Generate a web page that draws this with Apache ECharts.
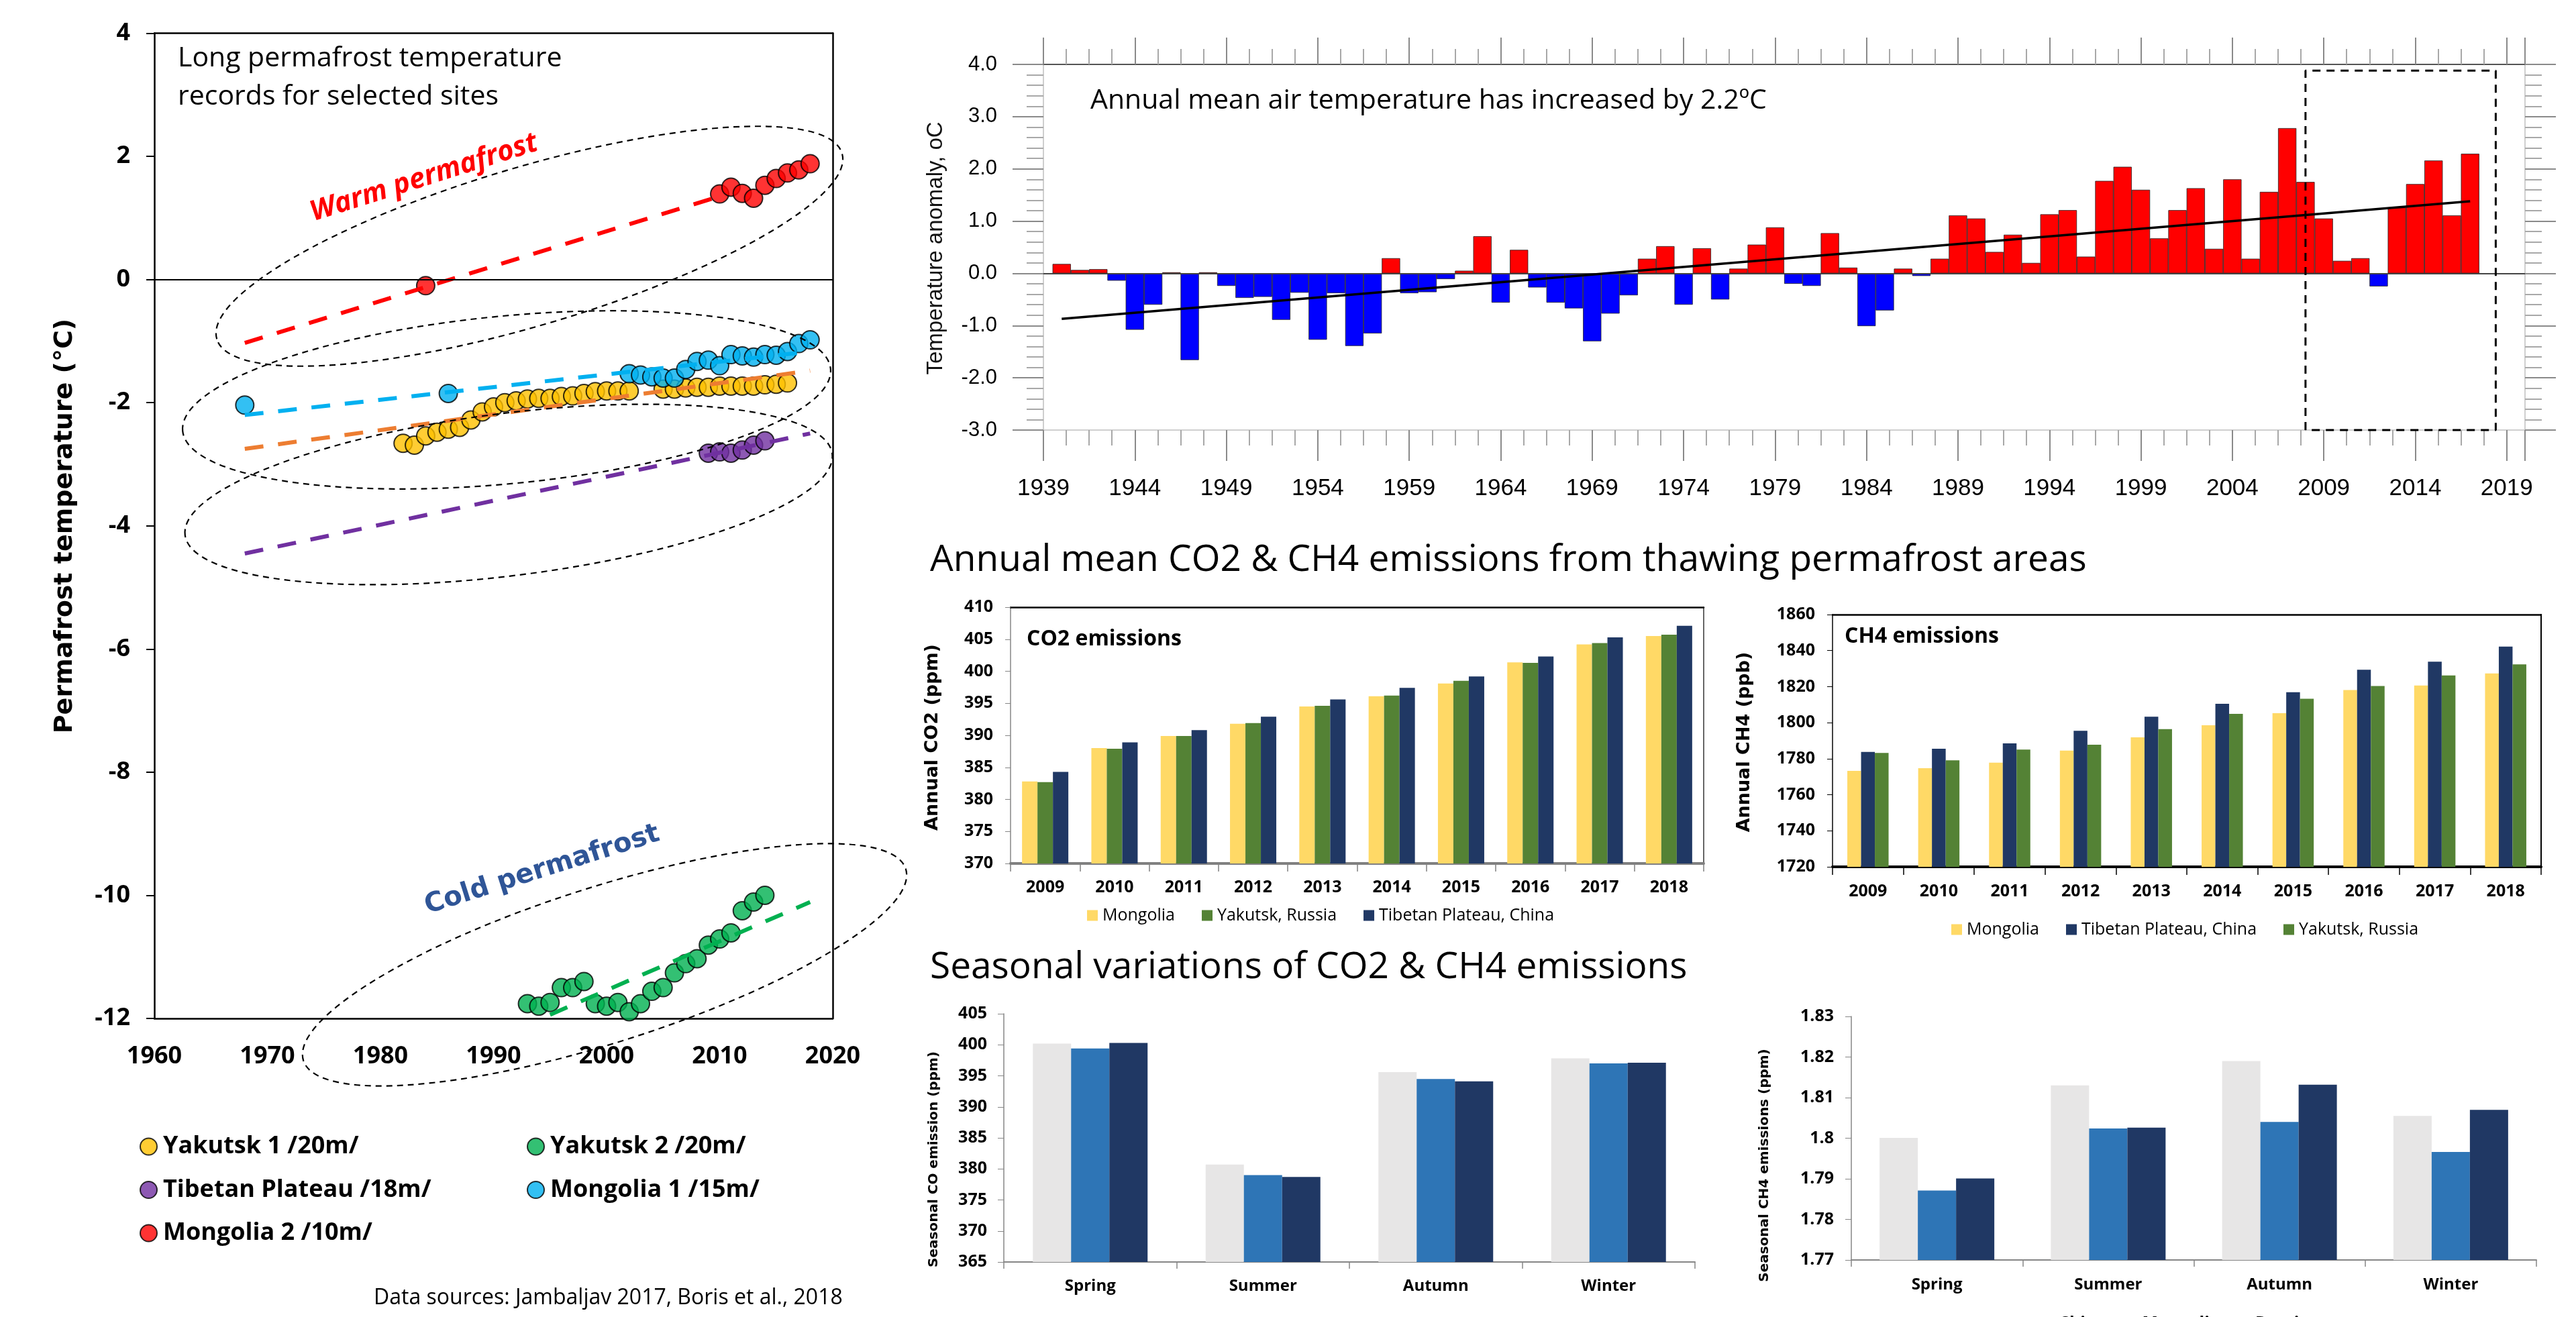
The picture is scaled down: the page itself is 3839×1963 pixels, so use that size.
<!DOCTYPE html>
<html><head><meta charset="utf-8">
<script src="https://cdn.jsdelivr.net/npm/echarts@6/dist/echarts.min.js"></script>
<style>html,body{margin:0;padding:0;background:#fff}#c{width:3839px;height:1963px}</style>
</head><body><div id="c"></div>
<script>
// ---------------- DATA ----------------
// Left panel: permafrost temperature records
const yak1Years = [1982,1983,1984,1985,1986,1987,1988,1989,1990,1991,1992,1993,1994,1995,1996,1997,1998,1999,2000,2001,2002,2005,2006,2007,2008,2009,2010,2011,2012,2013,2014,2015,2016];
const yak1Temps = [-2.66,-2.69,-2.54,-2.48,-2.43,-2.40,-2.28,-2.15,-2.07,-2.00,-1.97,-1.94,-1.93,-1.93,-1.90,-1.89,-1.85,-1.82,-1.81,-1.81,-1.81,-1.78,-1.78,-1.76,-1.75,-1.75,-1.73,-1.73,-1.73,-1.73,-1.71,-1.70,-1.68];
const yak2Years = [1993,1994,1995,1996,1997,1998,1999,2000,2001,2002,2003,2004,2005,2006,2007,2008,2009,2010,2011,2012,2013,2014];
const yak2Temps = [-11.76,-11.80,-11.74,-11.50,-11.50,-11.40,-11.76,-11.80,-11.74,-11.89,-11.76,-11.56,-11.50,-11.26,-11.11,-11.03,-10.81,-10.71,-10.61,-10.25,-10.11,-10.00];
const tibetYears = [2009,2010,2011,2012,2013,2014];
const tibetTemps = [-2.82,-2.80,-2.82,-2.77,-2.69,-2.62];
const mon1Years = [1968,1986,2002,2003,2004,2005,2006,2007,2008,2009,2010,2011,2012,2013,2014,2015,2016,2017,2018];
const mon1Temps = [-2.04,-1.85,-1.53,-1.55,-1.58,-1.60,-1.60,-1.46,-1.33,-1.31,-1.40,-1.22,-1.24,-1.26,-1.22,-1.23,-1.17,-1.04,-0.98];
const mon2Years = [1984,2010,2011,2012,2013,2014,2015,2016,2017,2018];
const mon2Temps = [-0.10,1.39,1.50,1.40,1.32,1.53,1.64,1.73,1.78,1.88];
// trend lines (start / end)
const mon2TrendYears = [1968, 2010];  const mon2TrendTemps = [-1.03, 1.35];
const mon1TrendYears = [1968, 2018];  const mon1TrendTemps = [-2.20, -1.17];
const yak1TrendYears = [1968, 2018];  const yak1TrendTemps = [-2.75, -1.48];
const tibetTrendYears = [1968, 2018]; const tibetTrendTemps = [-4.45, -2.50];
const yak2TrendYears = [1995, 2018];  const yak2TrendTemps = [-11.94, -10.11];
const permXTicks = [1960, 2020, 10];
const permYTicks = [-12, 4, 2];

// Top right: annual air temperature anomaly
const tempYears = [1940,1941,1942,1943,1944,1945,1946,1947,1948,1949,1950,1951,1952,1953,1954,1955,1956,1957,1958,1959,1960,1961,1962,1963,1964,1965,1966,1967,1968,1969,1970,1971,1972,1973,1974,1975,1976,1977,1978,1979,1980,1981,1982,1983,1984,1985,1986,1987,1988,1989,1990,1991,1992,1993,1994,1995,1996,1997,1998,1999,2000,2001,2002,2003,2004,2005,2006,2007,2008,2009,2010,2011,2012,2013,2014,2015,2016,2017];
const tempAnomaly = [0.18,0.065,0.08,-0.14,-1.08,-0.60,0.02,-1.66,0.02,-0.24,-0.47,-0.45,-0.89,-0.37,-1.27,-0.38,-1.39,-1.15,0.29,-0.38,-0.36,-0.11,0.05,0.71,-0.56,0.45,-0.27,-0.56,-0.67,-1.30,-0.77,-0.42,0.28,0.52,-0.60,0.48,-0.50,0.09,0.55,0.88,-0.20,-0.24,0.77,0.11,-1.01,-0.71,0.09,-0.05,0.28,1.11,1.05,0.41,0.74,0.20,1.13,1.21,0.32,1.77,2.04,1.60,0.67,1.21,1.63,0.47,1.80,0.28,1.56,2.78,1.75,1.05,0.24,0.29,-0.25,1.26,1.71,2.16,1.11,2.29];
const tempTrendYears = [1940, 2017];
const tempTrendValues = [-0.87, 1.38];
const recentBoxYears = [2008, 2018.4];
const recentBoxValues = [-3.0, 3.88];
const tempXTicks = [1939, 2020, 5];
const tempYTicks = [-3, 4, 1];

// Annual CO2 & CH4
const emissionYears = ['2009','2010','2011','2012','2013','2014','2015','2016','2017','2018'];
const co2Mongolia = [382.8,388.0,389.9,391.8,394.5,396.1,398.1,401.4,404.2,405.5];
const co2Yakutsk  = [382.7,387.9,389.9,391.9,394.6,396.2,398.5,401.3,404.4,405.7];
const co2Tibet    = [384.3,388.9,390.8,392.9,395.6,397.4,399.2,402.3,405.3,407.1];
const ch4Mongolia = [1773.2,1774.7,1777.8,1784.5,1791.9,1798.6,1805.3,1818.1,1820.6,1827.3];
const ch4Tibet    = [1783.8,1785.5,1788.5,1795.5,1803.3,1810.5,1816.9,1829.4,1833.8,1842.2];
const ch4Yakutsk  = [1783.2,1779.1,1785.1,1787.8,1796.4,1804.9,1813.3,1820.3,1826.2,1832.4];

// Seasonal
const seasons = ['Spring','Summer','Autumn','Winter'];
const seasCO2China    = [400.2,380.7,395.6,397.8];
const seasCO2Mongolia = [399.4,379.0,394.5,397.0];
const seasCO2Russia   = [400.3,378.7,394.1,397.1];
const seasCH4China    = [1.8001,1.8130,1.8190,1.8055];
const seasCH4Mongolia = [1.7871,1.8024,1.8040,1.7966];
const seasCH4Russia   = [1.7901,1.8026,1.8132,1.8070];

// ---------------- STYLE ----------------
const SANS = '"Open Sans","Noto Sans",sans-serif';
const DJ = '"DejaVu Sans",sans-serif';
const HV = '"Liberation Sans",Arial,sans-serif';
const C = {
  yellow:'#FFC000', green:'#00B050', purple:'#7030A0', cyan:'#00B0F0', red:'#FF0000', orange:'#ED7D31',
  mong:'#FFD966', yak:'#548235', tib:'#203864',
  sChina:'#E7E6E6', sMong:'#2E75B6', sRus:'#203864'
};

const pairs = (xs, ys) => xs.map((x, i) => [x, ys[i]]);
const plain = v => String(v);

function scatter(name, xs, ys, color) {
  return { name, type:'scatter', xAxisIndex:0, yAxisIndex:0, data:pairs(xs, ys), symbol:'circle', symbolSize:27,
    itemStyle:{ color, borderColor:'#000', borderWidth:2 }, z:3 };
}
function trend(xs, ys, color) {
  return { name:'trend', type:'line', xAxisIndex:0, yAxisIndex:0, data:pairs(xs, ys), symbol:'none', silent:true,
    lineStyle:{ color, width:6, type:[28,22] }, z:4 };
}
function bars(name, data, color, xi, yi, w) {
  return { name, type:'bar', xAxisIndex:xi, yAxisIndex:yi, data, barWidth:w, barGap:'0%',
    itemStyle:{ color }, z:2 };
}
function T(x, y, text, size, o = {}) {
  return { type:'text', x, y, rotation:o.rot || 0, silent:true, z:60,
    style:{ text, fill:o.color || '#000', fontSize:size, fontFamily:o.family || SANS,
      fontWeight:o.weight || 'normal', fontStyle:o.style || 'normal',
      textAlign:o.align || 'left', textVerticalAlign:'middle', verticalAlign:'middle' } };
}
function E(cx, cy, rx, ry, deg) {
  return { type:'ellipse', x:cx, y:cy, rotation:deg * Math.PI / 180, silent:true, z:70,
    shape:{ cx:0, cy:0, rx, ry }, style:{ fill:'none', stroke:'#000', lineWidth:2.2, lineDash:[9,7] } };
}
const none = { show:false };
const line = (color, width) => ({ show:true, onZero:false, lineStyle:{ color, width } });
const lbl = (size, extra = {}) => Object.assign({ fontFamily:SANS, fontWeight:'bold', fontSize:size, color:'#000' }, extra);

const option = {
  animation:false,
  backgroundColor:'#fff',
  textStyle:{ fontFamily:SANS },
  grid:[
    { left:230, top:49.5, width:1011, height:1468.5 },
    { left:1555, top:96, width:2208, height:545 },
    { left:1506, top:905, width:1033, height:382 },
    { left:2731, top:916, width:1056, height:376 },
    { left:1496, top:1511, width:1030, height:370 },
    { left:2759, top:1515, width:1021, height:363 }
  ],
  xAxis:[
    // 0 perm bottom
    { type:'value', gridIndex:0, min:permXTicks[0], max:permXTicks[1], interval:permXTicks[2],
      axisLine:line('#000', 2.5), axisTick:none, splitLine:none,
      axisLabel:lbl(36, { margin:39, formatter:plain }) },
    // 1 perm top
    { type:'value', gridIndex:0, position:'top', min:permXTicks[0], max:permXTicks[1], interval:permXTicks[2],
      axisLine:line('#000', 2.5), axisTick:none, axisLabel:none, splitLine:none },
    // 2 temp bottom
    { type:'value', gridIndex:1, min:tempXTicks[0], max:tempXTicks[1], interval:tempXTicks[2],
      axisLine:line('#cfcfcf', 2),
      axisTick:{ show:true, length:46, lineStyle:{ color:'#8a8a8a', width:2 } },
      minorTick:{ show:true, splitNumber:4, length:23, lineStyle:{ color:'#a8a8a8', width:2 } },
      splitLine:none, minorSplitLine:none,
      axisLabel:{ fontFamily:HV, fontSize:35, color:'#000', margin:70, showMaxLabel:false,
        formatter:v => ((Math.round(v) - tempXTicks[0]) % tempXTicks[2] === 0 ? String(Math.round(v)) : '') } },
    // 3 temp top
    { type:'value', gridIndex:1, position:'top', min:tempXTicks[0], max:tempXTicks[1], interval:tempXTicks[2],
      axisLine:line('#555', 2),
      axisTick:{ show:true, length:40, lineStyle:{ color:'#8a8a8a', width:2 } },
      minorTick:{ show:true, splitNumber:4, length:23, lineStyle:{ color:'#a8a8a8', width:2 } },
      axisLabel:none, splitLine:none },
    // 4 co2 bottom
    { type:'category', gridIndex:2, data:emissionYears,
      axisLine:line('#808080', 4),
      axisTick:{ show:true, length:12, lineStyle:{ color:'#808080', width:1.5 } },
      axisLabel:lbl(25, { margin:23 }) },
    // 5 co2 top
    { type:'category', gridIndex:2, position:'top', data:emissionYears,
      axisLine:line('#000', 2.5), axisTick:none, axisLabel:none },
    // 6 ch4 bottom
    { type:'category', gridIndex:3, data:emissionYears,
      axisLine:line('#000', 4),
      axisTick:{ show:true, length:12, lineStyle:{ color:'#000', width:1.5 } },
      axisLabel:lbl(25, { margin:24 }) },
    // 7 ch4 top
    { type:'category', gridIndex:3, position:'top', data:emissionYears,
      axisLine:line('#000', 2.5), axisTick:none, axisLabel:none },
    // 8 seasonal co2
    { type:'category', gridIndex:4, data:seasons,
      axisLine:line('#868686', 2),
      axisTick:{ show:true, length:10, lineStyle:{ color:'#868686', width:1.5 } },
      axisLabel:lbl(24, { margin:24 }) },
    // 9 seasonal ch4
    { type:'category', gridIndex:5, data:seasons,
      axisLine:line('#868686', 2),
      axisTick:{ show:true, length:10, lineStyle:{ color:'#868686', width:1.5 } },
      axisLabel:lbl(24, { margin:25 }) }
  ],
  yAxis:[
    // 0 perm left
    { type:'value', gridIndex:0, min:permYTicks[0], max:permYTicks[1], interval:permYTicks[2],
      axisLine:line('#000', 2.5),
      axisTick:{ show:true, length:12, lineStyle:{ color:'#000', width:2 } },
      splitLine:none, axisLabel:lbl(36, { margin:36 }) },
    // 1 perm right
    { type:'value', gridIndex:0, position:'right', min:permYTicks[0], max:permYTicks[1], interval:permYTicks[2],
      axisLine:line('#000', 2.5), axisTick:none, axisLabel:none, splitLine:none },
    // 2 temp left
    { type:'value', gridIndex:1, min:tempYTicks[0], max:tempYTicks[1], interval:tempYTicks[2],
      axisLine:line('#cfcfcf', 2),
      axisTick:{ show:true, length:46, lineStyle:{ color:'#8a8a8a', width:2 } },
      minorTick:{ show:true, splitNumber:5, length:25, lineStyle:{ color:'#a8a8a8', width:2 } },
      splitLine:none, minorSplitLine:none,
      axisLabel:{ fontFamily:HV, fontSize:31, color:'#000', margin:69, formatter:v => v.toFixed(1) } },
    // 3 temp right
    { type:'value', gridIndex:1, position:'right', min:tempYTicks[0], max:tempYTicks[1], interval:tempYTicks[2],
      axisLine:line('#cfcfcf', 2),
      axisTick:{ show:true, length:46, lineStyle:{ color:'#8a8a8a', width:2 } },
      minorTick:{ show:true, splitNumber:5, length:25, lineStyle:{ color:'#a8a8a8', width:2 } },
      axisLabel:none, splitLine:none },
    // 4 co2 left
    { type:'value', gridIndex:2, min:370, max:410, interval:5,
      axisLine:line('#868686', 1.5),
      axisTick:{ show:true, length:8, lineStyle:{ color:'#868686' } },
      splitLine:none, axisLabel:lbl(25, { margin:26, formatter:plain }) },
    // 5 co2 right
    { type:'value', gridIndex:2, position:'right', min:370, max:410,
      axisLine:line('#333', 1.5), axisTick:none, axisLabel:none, splitLine:none },
    // 6 ch4 left
    { type:'value', gridIndex:3, min:1720, max:1860, interval:20,
      axisLine:line('#000', 1.5),
      axisTick:{ show:true, length:8, lineStyle:{ color:'#000' } },
      splitLine:none, axisLabel:lbl(25, { margin:26, formatter:plain }) },
    // 7 ch4 right
    { type:'value', gridIndex:3, position:'right', min:1720, max:1860,
      axisLine:line('#000', 2), axisTick:none, axisLabel:none, splitLine:none },
    // 8 seasonal co2
    { type:'value', gridIndex:4, min:365, max:405, interval:5,
      axisLine:line('#868686', 1.5),
      axisTick:{ show:true, length:9, lineStyle:{ color:'#868686' } },
      splitLine:none, axisLabel:lbl(25, { margin:25, formatter:plain }) },
    // 9 seasonal ch4
    { type:'value', gridIndex:5, min:1.77, max:1.83, interval:0.01,
      axisLine:line('#868686', 1.5),
      axisTick:{ show:true, length:9, lineStyle:{ color:'#868686' } },
      splitLine:none, axisLabel:lbl(25, { margin:26, formatter:v => String(Math.round(v * 1000) / 1000) }) }
  ],
  legend:[
    { orient:'vertical', left:203, top:1684, itemGap:24.5, itemWidth:25, itemHeight:25, icon:'circle', selectedMode:false,
      data:['Yakutsk 1 /20m/','Tibetan Plateau /18m/','Mongolia 2 /10m/'],
      itemStyle:{ borderColor:'#000', borderWidth:2 },
      textStyle:{ fontFamily:SANS, fontWeight:'bold', fontSize:36, lineHeight:40, color:'#000', padding:[0,0,0,4] } },
    { orient:'vertical', left:780, top:1684, itemGap:24.5, itemWidth:25, itemHeight:25, icon:'circle', selectedMode:false,
      data:['Yakutsk 2 /20m/','Mongolia 1 /15m/'],
      itemStyle:{ borderColor:'#000', borderWidth:2 },
      textStyle:{ fontFamily:SANS, fontWeight:'bold', fontSize:36, lineHeight:40, color:'#000', padding:[0,0,0,4] } },
    { left:1615, top:1347, itemGap:40, itemWidth:16, itemHeight:16, icon:'rect', selectedMode:false,
      data:['Mongolia','Yakutsk, Russia','Tibetan Plateau, China'],
      textStyle:{ fontFamily:SANS, fontSize:25, color:'#000', padding:[0,0,0,2] } },
    { left:2903, top:1368, itemGap:40, itemWidth:16, itemHeight:16, icon:'rect', selectedMode:false,
      data:['Mongolia','Tibetan Plateau, China','Yakutsk, Russia'],
      textStyle:{ fontFamily:SANS, fontSize:25, color:'#000', padding:[0,0,0,2] } },
    { left:3040, top:1955, itemGap:30, itemWidth:16, itemHeight:16, icon:'rect', selectedMode:false,
      data:['China','Mongolia ','Russia'], formatter:n => n.trim(),
      textStyle:{ fontFamily:SANS, fontWeight:'bold', fontSize:25, color:'#000', padding:[0,0,0,2] } }
  ],
  series:[
    scatter('Yakutsk 1 /20m/', yak1Years, yak1Temps, C.yellow),
    scatter('Yakutsk 2 /20m/', yak2Years, yak2Temps, C.green),
    scatter('Tibetan Plateau /18m/', tibetYears, tibetTemps, C.purple),
    scatter('Mongolia 1 /15m/', mon1Years, mon1Temps, C.cyan),
    scatter('Mongolia 2 /10m/', mon2Years, mon2Temps, C.red),
    trend(mon2TrendYears, mon2TrendTemps, C.red),
    trend(mon1TrendYears, mon1TrendTemps, C.cyan),
    trend(yak1TrendYears, yak1TrendTemps, C.orange),
    trend(tibetTrendYears, tibetTrendTemps, C.purple),
    trend(yak2TrendYears, yak2TrendTemps, C.green),
    // zero line in permafrost panel
    { name:'zero', type:'line', xAxisIndex:0, yAxisIndex:0, data:[], silent:true,
      markLine:{ silent:true, symbol:'none', label:none, lineStyle:{ color:'#000', width:2, type:'solid' }, data:[{ yAxis:0 }] } },

    // temperature anomaly bars
    { name:'anomaly', type:'bar', xAxisIndex:2, yAxisIndex:2, data:pairs(tempYears, tempAnomaly), barWidth:27.3,
      itemStyle:{ color:p => (p.value[1] >= 0 ? '#FF0000' : '#0000FF'), borderColor:'#222', borderWidth:0.8 },
      markLine:{ silent:true, symbol:'none', label:none, lineStyle:{ color:'#444', width:2, type:'solid' }, data:[{ yAxis:0 }] }, z:2 },
    { name:'tempTrend', type:'line', xAxisIndex:2, yAxisIndex:2, data:pairs(tempTrendYears, tempTrendValues), symbol:'none', silent:true,
      lineStyle:{ color:'#000', width:3.5 }, z:5 },
    { name:'recentBox', type:'line', xAxisIndex:2, yAxisIndex:2, symbol:'none', silent:true, clip:false,
      data:[[recentBoxYears[0], recentBoxValues[0]],[recentBoxYears[0], recentBoxValues[1]],[recentBoxYears[1], recentBoxValues[1]],[recentBoxYears[1], recentBoxValues[0]],[recentBoxYears[0], recentBoxValues[0]]],
      lineStyle:{ color:'#000', width:3, type:[12,9] }, z:6 },

    // annual CO2
    bars('Mongolia', co2Mongolia, C.mong, 4, 4, 23),
    bars('Yakutsk, Russia', co2Yakutsk, C.yak, 4, 4, 23),
    bars('Tibetan Plateau, China', co2Tibet, C.tib, 4, 4, 23),
    // annual CH4
    bars('Mongolia', ch4Mongolia, C.mong, 6, 6, 20.5),
    bars('Tibetan Plateau, China', ch4Tibet, C.tib, 6, 6, 20.5),
    bars('Yakutsk, Russia', ch4Yakutsk, C.yak, 6, 6, 20.5),
    // seasonal CO2
    bars('China', seasCO2China, C.sChina, 8, 8, 57),
    bars('Mongolia ', seasCO2Mongolia, C.sMong, 8, 8, 57),
    bars('Russia', seasCO2Russia, C.sRus, 8, 8, 57),
    // seasonal CH4
    bars('China', seasCH4China, C.sChina, 9, 9, 57),
    bars('Mongolia ', seasCH4Mongolia, C.sMong, 9, 9, 57),
    bars('Russia', seasCH4Russia, C.sRus, 9, 9, 57)
  ],
  graphic:{ elements:[
    T(265, 87, 'Long permafrost temperature', 41),
    T(265, 144, 'records for selected sites', 41),
    T(632, 265, 'Warm permafrost', 42, { color:'#FF0000', weight:'bold', style:'italic', align:'center', rot:17.5 * Math.PI / 180 }),
    T(808, 1297, 'Cold permafrost', 40, { color:'#2F5597', weight:'bold', family:DJ, align:'center', rot:17.5 * Math.PI / 180 }),
    T(97, 784, 'Permafrost temperature (°C)', 38, { weight:'bold', family:DJ, align:'center', rot:Math.PI / 2 }),
    T(557, 1935, 'Data sources: Jambaljav 2017, Boris et al., 2018', 32),
    E(789, 367, 486, 118, 16.55),
    E(755, 596, 485, 125, 5.48),
    E(758, 737, 486, 121, 7.15),
    E(901, 1438, 471, 116, 17.65),

    T(1395, 370, 'Temperature anomaly, oC', 33, { family:HV, align:'center', rot:Math.PI / 2, color:'#111' }),
    T(1625, 150, 'Annual mean air temperature has increased by 2.2ºC', 41),

    T(1386, 835, 'Annual mean CO2 & CH4 emissions from thawing permafrost areas', 55),
    T(1386, 1442, 'Seasonal variations of CO2 & CH4 emissions', 55),
    T(1530, 953, 'CO2 emissions', 32, { weight:'bold' }),
    T(2749, 949, 'CH4 emissions', 32, { weight:'bold' }),
    T(1390, 1099, 'Annual CO2 (ppm)', 27, { weight:'bold', family:DJ, align:'center', rot:Math.PI / 2 }),
    T(2600, 1106, 'Annual CH4 (ppb)', 27, { weight:'bold', family:DJ, align:'center', rot:Math.PI / 2 }),
    T(1392, 1728, 'Seasonal CO emission (ppm)', 20, { weight:'bold', family:DJ, align:'center', rot:Math.PI / 2 }),
    T(2630, 1737, 'Seasonal CH4 emissions (ppm)', 20, { weight:'bold', family:DJ, align:'center', rot:Math.PI / 2 })
  ] }
};

const chart = echarts.init(document.getElementById('c'), null, { renderer:'canvas', width:3839, height:1963 });
chart.setOption(option);
</script>
</body></html>
